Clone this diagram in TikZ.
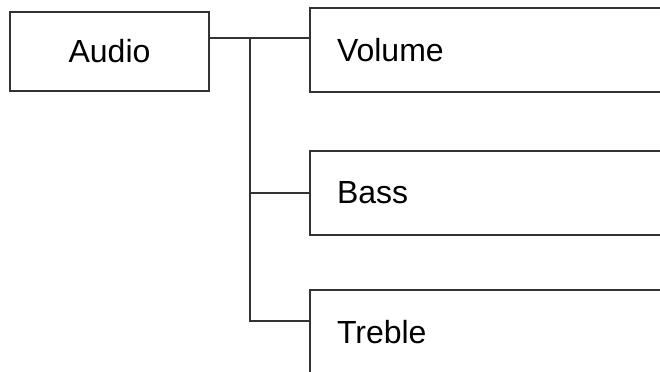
\documentclass[tikz,border=0pt]{standalone}
\usepackage{fontspec}
\setmainfont{Liberation Sans}
\usetikzlibrary{positioning}

\begin{document}
\begin{tikzpicture}[
    x=0.5pt, y=-0.5pt,
    box/.style={rectangle, draw=black!80, line width=1pt, minimum height=42pt,
                font=\fontsize{16}{19}\selectfont},
    item/.style={box, text width=178pt, inner xsep=13.5pt, align=left}
]

% Frame
\path[use as bounding box, clip] (0,0) rectangle (660,371);

% Parent
\node[box, minimum width=99.5pt, minimum height=39.5pt] (audio) at (109.5,51.5) {Audio};

% Children
\node[item] (volume) at (515,50) {Volume};
\node[item] (bass) at (515,193) {Bass};
\node[item] (treble) at (515,332) {Treble};

% Branch point
\coordinate (fork) at (250,38);

% Connectors
\draw[black!80, line width=1pt] (audio.east |- fork) -- (volume.west |- fork);
\draw[black!80, line width=1pt] (fork) |- (bass.west);
\draw[black!80, line width=1pt] (fork) |- ([yshift=5.5pt]treble.west);

\end{tikzpicture}
\end{document}
